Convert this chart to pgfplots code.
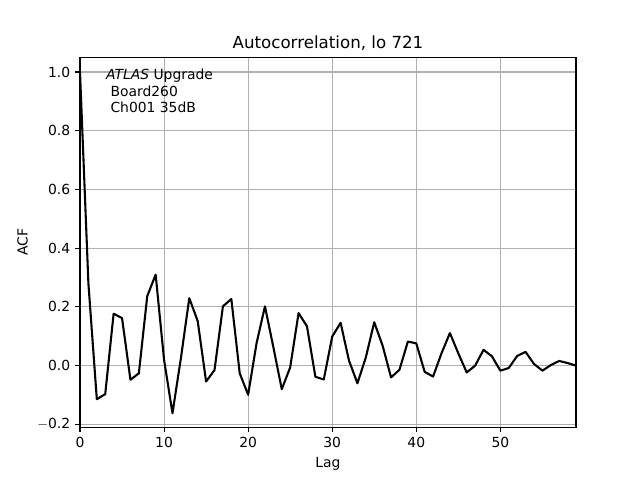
\documentclass[border=0pt]{standalone}
\usepackage{fontspec}
\setmainfont{DejaVu Sans}
\usepackage{pgfplots}
\pgfplotsset{compat=1.18}
\definecolor{gridgray}{HTML}{B0B0B0}
\begin{document}
\begin{tikzpicture}
\useasboundingbox (-57.6pt,-38.016pt) rectangle (403.2pt,307.584pt);
\begin{axis}[
  at={(0pt,0pt)}, anchor=south west,
  scale only axis, width=357.12pt, height=266.112pt,
  xmin=0, xmax=59, ymin=-0.2095, ymax=1.049,
  xtick={0,10,20,30,40,50},
  ytick={-0.2,0,0.2,0.4,0.6,0.8,1.0},
  yticklabels={$-$0.2,0.0,0.2,0.4,0.6,0.8,1.0},
  xticklabels={0,10,20,30,40,50},
  grid=major,
  major grid style={gridgray, line width=0.8pt},
  axis line style={line width=0.8pt},
  tick style={black, line width=0.8pt},
  major tick length=3.5pt,
  tick align=outside,
  xtick pos=bottom, ytick pos=left,
  tick label style={font=\fontsize{10}{12}\selectfont},
  /pgf/number format/assume math mode=true,
  xlabel={Lag}, ylabel={ACF},
  label style={font=\fontsize{10}{12}\selectfont},
  title={Autocorrelation, lo 721},
  title style={font=\fontsize{12}{14}\selectfont, at={(0.5,1)}, anchor=base, yshift=0.3pt},
  clip=true,
]
\addplot[black, line width=1.5pt, line join=round] coordinates {
(0,1.0) (1,0.28) (2,-0.114) (3,-0.097) (4,0.177) (5,0.162) (6,-0.048) (7,-0.026)
(8,0.237) (9,0.31) (10,0.02) (11,-0.162) (12,0.025) (13,0.23) (14,0.152) (15,-0.054)
(16,-0.015) (17,0.202) (18,0.227) (19,-0.026) (20,-0.099) (21,0.076) (22,0.202) (23,0.063)
(24,-0.08) (25,-0.006) (26,0.179) (27,0.134) (28,-0.038) (29,-0.047) (30,0.099) (31,0.146)
(32,0.017) (33,-0.06) (34,0.028) (35,0.148) (36,0.068) (37,-0.04) (38,-0.014) (39,0.082)
(40,0.076) (41,-0.021) (42,-0.037) (43,0.042) (44,0.111) (45,0.042) (46,-0.023) (47,0.0)
(48,0.054) (49,0.032) (50,-0.017) (51,-0.008) (52,0.033) (53,0.047) (54,0.006) (55,-0.017)
(56,0.002) (57,0.016) (58,0.009) (59,0.0)
};
\node[anchor=north west, align=left, font=\fontsize{10}{12}\selectfont, inner sep=0pt]
  at (rel axis cs:0.052,0.97) {\textit{ATLAS} Upgrade\\\hspace*{3.2pt}Board260\\\hspace*{3.2pt}Ch001 35dB};
\end{axis}
\end{tikzpicture}
\end{document}
